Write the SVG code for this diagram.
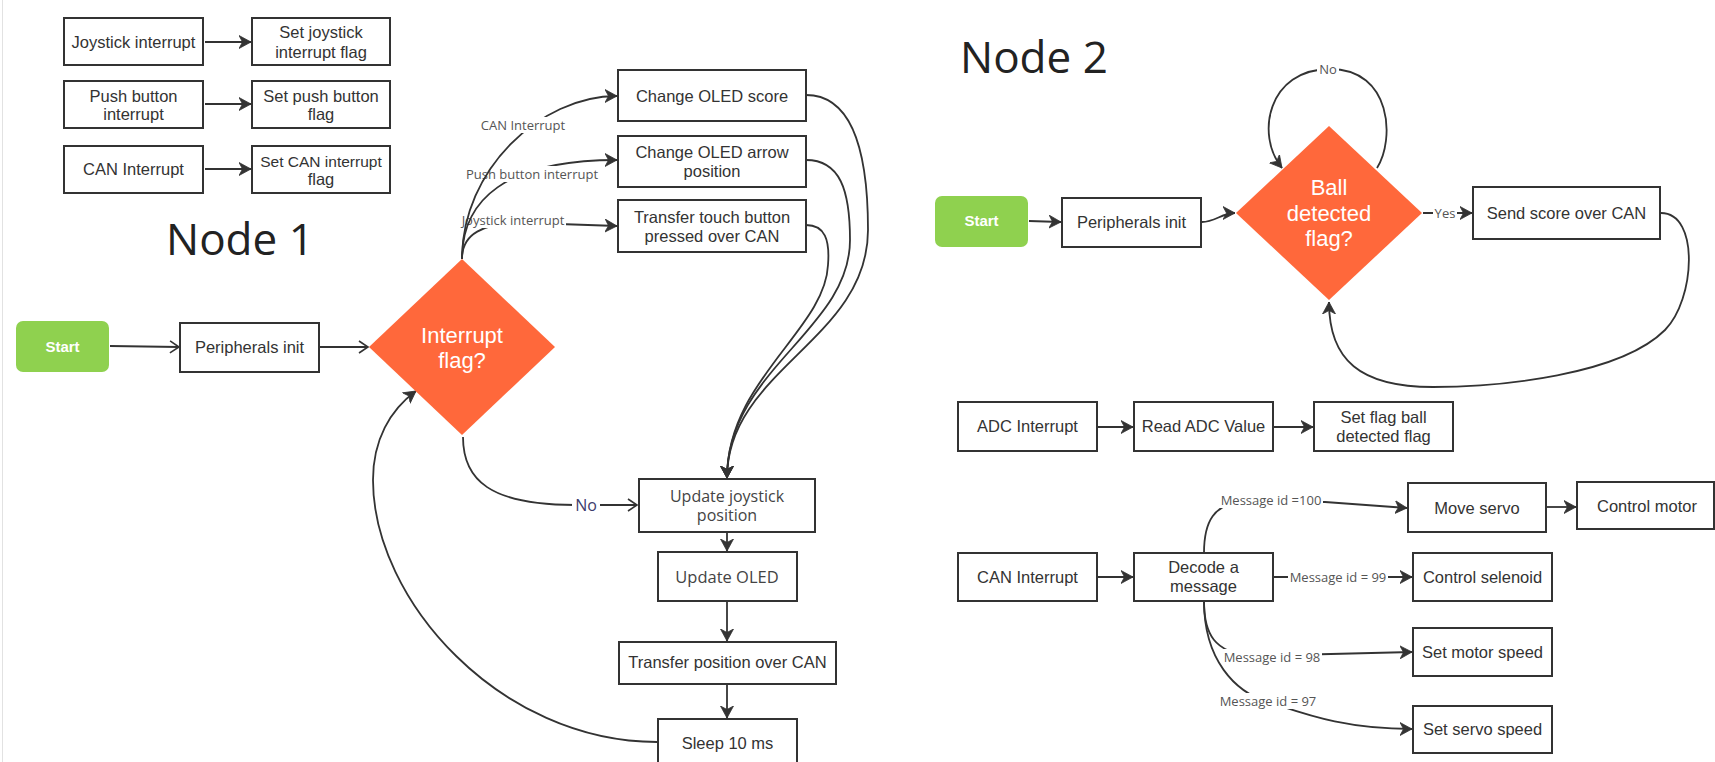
<svg xmlns="http://www.w3.org/2000/svg" width="1715" height="762" viewBox="0 0 1715 762">
<style>
.box{fill:#fff;stroke:#333;stroke-width:2}
.t{font-family:"Liberation Sans",Arial,sans-serif;font-size:16.5px;fill:#333;text-anchor:middle}
.to{font-family:"Open Sans",sans-serif;font-size:16px;fill:#444;text-anchor:middle}
.lbl{font-family:"Open Sans",sans-serif;font-size:13px;fill:#555;text-anchor:middle}
.title{font-family:"Open Sans",sans-serif;font-size:44px;fill:#222}
.dia{fill:#ff683b}
.dt{font-family:"Liberation Sans",Arial,sans-serif;font-size:22px;fill:#fff;text-anchor:middle}
.start{fill:#8fd14f}
.st{font-family:"Liberation Sans",Arial,sans-serif;font-size:15px;font-weight:bold;fill:#fff;text-anchor:middle}
.c{fill:none;stroke:#333;stroke-width:1.8}
.cf{marker-end:url(#af)}
.co{marker-end:url(#ao)}
.lb{fill:#fff}
</style>
<defs>
<marker id="af" markerWidth="14" markerHeight="14" refX="12" refY="7" orient="auto" markerUnits="userSpaceOnUse"><path d="M0,0.5 L12,7 L0,13.5 L3.5,7 z" fill="#333" stroke="#333" stroke-width="0.8" stroke-linejoin="round"/></marker>
<marker id="ao" markerWidth="12" markerHeight="14" refX="10" refY="7" orient="auto" markerUnits="userSpaceOnUse"><path d="M1,1 L10,7 L1,13" fill="none" stroke="#333" stroke-width="1.6"/></marker>
</defs>
<rect x="0" y="0" width="1715" height="762" fill="#fff"/>
<line x1="2.5" y1="0" x2="2.5" y2="762" stroke="#e2e2e2" stroke-width="1"/>

<text class="title" x="166" y="255">Node 1</text>
<text class="title" x="960" y="73">Node 2</text>

<g id="connectors">
  <path class="c cf" d="M205,42 L251,42"/>
  <path class="c cf" d="M205,104 L251,104"/>
  <path class="c cf" d="M205,169 L251,169"/>
  <path class="c co" d="M110,346 L179,347"/>
  <path class="c co" d="M320,347 L368,347"/>
  <path class="c cf" d="M462,259 C462,235 480,222 530,223 L617,226"/>
  <rect class="lb" x="460" y="212" width="106" height="16"/>
  <text class="lbl" x="513" y="224.5">Joystick interrupt</text>
  <path class="c cf" d="M462,259 C462,200 505,160 617,160"/>
  <rect class="lb" x="465" y="166" width="135" height="16"/>
  <text class="lbl" x="532" y="178.5">Push button interrupt</text>
  <path class="c cf" d="M462,259 C462,170 540,96 617,96"/>
  <rect class="lb" x="480" y="117" width="86" height="16"/>
  <text class="lbl" x="523" y="129.5">CAN Interrupt</text>
  <path class="c cf" d="M806,95 C855,95 868,160 868,230 C868,340 727,370 727,478"/>
  <path class="c cf" d="M806,160 C840,160 850,190 850,240 C850,330 727,370 727,478"/>
  <path class="c cf" d="M806,225 C825,225 830,240 828,265 C825,330 727,380 727,478"/>
  <path class="c co" d="M463,437 C463,480 490,505 575,505 L637,505"/>
  <rect class="lb" x="572" y="495" width="28" height="20"/>
  <text x="586" y="511" style="font-family:'Open Sans',sans-serif;font-size:16px;fill:#3d3b6b;text-anchor:middle">No</text>
  <path class="c cf" d="M727,533 L727,551"/>
  <path class="c cf" d="M727,602 L727,641"/>
  <path class="c cf" d="M727,685 L727,718"/>
  <path class="c cf" d="M657,742 C500,742 373,600 373,480 C373,440 390,410 416,391"/>
  <path class="c cf" d="M1029,221 L1061,222"/>
  <path class="c cf" d="M1202,222 C1215,222 1222,213 1235,213"/>
  <path class="c cf" d="M1377,168 C1395,140 1392,69 1330,69 C1268,69 1255,135 1282,168"/>
  <rect class="lb" x="1317" y="61" width="22" height="16"/>
  <text class="lbl" x="1328" y="73.5">No</text>
  <path class="c cf" d="M1423,213 L1472,213"/>
  <rect class="lb" x="1433" y="205" width="24" height="16"/>
  <text class="lbl" x="1445" y="217.5">Yes</text>
  <path class="c cf" d="M1661,213 C1700,213 1695,300 1665,330 C1620,375 1500,387 1433,387 C1360,387 1329,360 1329,302"/>
  <path class="c cf" d="M1098,427 L1133,427"/>
  <path class="c cf" d="M1274,427 L1313,427"/>
  <path class="c cf" d="M1098,577 L1133,577"/>
  <path class="c cf" d="M1204,553 C1204,520 1215,505 1240,502 L1325,502 L1407,508"/>
  <rect class="lb" x="1219" y="492" width="104" height="16"/>
  <text class="lbl" x="1271" y="504.5">Message id =100</text>
  <path class="c cf" d="M1274,577 L1412,577"/>
  <rect class="lb" x="1288" y="569" width="100" height="16"/>
  <text class="lbl" x="1338" y="581.5">Message id = 99</text>
  <path class="c cf" d="M1204,601 C1204,635 1215,652 1250,656 L1412,652"/>
  <rect class="lb" x="1222" y="649" width="100" height="16"/>
  <text class="lbl" x="1272" y="661.5">Message id = 98</text>
  <path class="c cf" d="M1204,601 C1204,660 1235,692 1268,702 C1300,712 1340,729 1412,729"/>
  <rect class="lb" x="1218" y="693" width="100" height="16"/>
  <text class="lbl" x="1268" y="705.5">Message id = 97</text>
  <path class="c cf" d="M1547,507 L1576,507"/>
</g>

<g id="n1-joy-int"><rect class="box" x="64" y="18" width="139" height="47"/><text class="t" x="133.5" y="48">Joystick interrupt</text></g>
<g id="n1-set-joy"><rect class="box" x="252" y="18" width="138" height="47"/><text class="t" x="321" y="38">Set joystick</text><text class="t" x="321" y="58">interrupt flag</text></g>
<g id="n1-push-int"><rect class="box" x="64" y="81" width="139" height="47"/><text class="t" x="133.5" y="102">Push button</text><text class="t" x="133.5" y="120">interrupt</text></g>
<g id="n1-set-push"><rect class="box" x="252" y="81" width="138" height="47"/><text class="t" x="321" y="102">Set push button</text><text class="t" x="321" y="120">flag</text></g>
<g id="n1-can-int"><rect class="box" x="64" y="146" width="139" height="47"/><text class="t" x="133.5" y="175">CAN Interrupt</text></g>
<g id="n1-set-can"><rect class="box" x="252" y="146" width="138" height="47"/><text class="t" x="321" y="167" style="font-size:15.5px">Set CAN interrupt</text><text class="t" x="321" y="185">flag</text></g>

<g id="n1-start"><rect class="start" x="16" y="321" width="93" height="51" rx="7"/><text class="st" x="62.5" y="352">Start</text></g>
<g id="n1-periph"><rect class="box" x="180" y="323" width="139" height="49"/><text class="t" x="249.5" y="353">Peripherals init</text></g>
<g id="n1-decision"><polygon class="dia" points="462,259 555,347 462,435 369,347"/><text class="dt" x="462" y="343">Interrupt</text><text class="dt" x="462" y="368">flag?</text></g>
<g id="n1-oled-score"><rect class="box" x="618" y="70" width="188" height="51"/><text class="t" x="712" y="102">Change OLED score</text></g>
<g id="n1-oled-arrow"><rect class="box" x="618" y="136" width="188" height="51"/><text class="t" x="712" y="158">Change OLED arrow</text><text class="t" x="712" y="177">position</text></g>
<g id="n1-touch"><rect class="box" x="618" y="200" width="188" height="52"/><text class="t" x="712" y="223">Transfer touch button</text><text class="t" x="712" y="242">pressed over CAN</text></g>
<g id="n1-upd-joy"><rect class="box" x="639" y="479" width="176" height="53"/><text class="to" x="727" y="502">Update joystick</text><text class="to" x="727" y="521">position</text></g>
<g id="n1-upd-oled"><rect class="box" x="658" y="552" width="139" height="49"/><text class="to" x="727" y="583" style="font-size:16.5px">Update OLED</text></g>
<g id="n1-transfer-pos"><rect class="box" x="619" y="642" width="217" height="42"/><text class="t" x="727.5" y="668">Transfer position over CAN</text></g>
<g id="n1-sleep"><rect class="box" x="658" y="719" width="139" height="56"/><text class="t" x="727.5" y="749">Sleep 10 ms</text></g>

<g id="n2-start"><rect class="start" x="935" y="196" width="93" height="51" rx="7"/><text class="st" x="981.5" y="226">Start</text></g>
<g id="n2-periph"><rect class="box" x="1062" y="198" width="139" height="49"/><text class="t" x="1131.5" y="228">Peripherals init</text></g>
<g id="n2-decision"><polygon class="dia" points="1329,126 1422,213 1329,300 1236,213"/><text class="dt" x="1329" y="195">Ball</text><text class="dt" x="1329" y="221">detected</text><text class="dt" x="1329" y="246">flag?</text></g>
<g id="n2-send-score"><rect class="box" x="1473" y="187" width="187" height="52"/><text class="t" x="1566.5" y="219">Send score over CAN</text></g>
<g id="n2-adc-int"><rect class="box" x="958" y="402" width="139" height="49"/><text class="t" x="1027.5" y="432">ADC Interrupt</text></g>
<g id="n2-read-adc"><rect class="box" x="1134" y="402" width="139" height="49"/><text class="t" x="1203.5" y="432">Read ADC Value</text></g>
<g id="n2-set-flag"><rect class="box" x="1314" y="402" width="139" height="49"/><text class="t" x="1383.5" y="423">Set flag ball</text><text class="t" x="1383.5" y="442">detected flag</text></g>
<g id="n2-can-int"><rect class="box" x="958" y="553" width="139" height="48"/><text class="t" x="1027.5" y="583">CAN Interrupt</text></g>
<g id="n2-decode"><rect class="box" x="1134" y="553" width="139" height="48"/><text class="t" x="1203.5" y="573">Decode a</text><text class="t" x="1203.5" y="592">message</text></g>
<g id="n2-move-servo"><rect class="box" x="1408" y="483" width="138" height="49"/><text class="t" x="1477" y="514">Move servo</text></g>
<g id="n2-control-motor"><rect class="box" x="1577" y="482" width="137" height="47"/><text class="t" x="1647" y="512">Control motor</text></g>
<g id="n2-selenoid"><rect class="box" x="1413" y="553" width="139" height="48"/><text class="t" x="1482.5" y="583">Control selenoid</text></g>
<g id="n2-motor-speed"><rect class="box" x="1413" y="628" width="139" height="48"/><text class="t" x="1482.5" y="658">Set motor speed</text></g>
<g id="n2-servo-speed"><rect class="box" x="1413" y="706" width="139" height="47"/><text class="t" x="1482.5" y="735">Set servo speed</text></g>
</svg>
